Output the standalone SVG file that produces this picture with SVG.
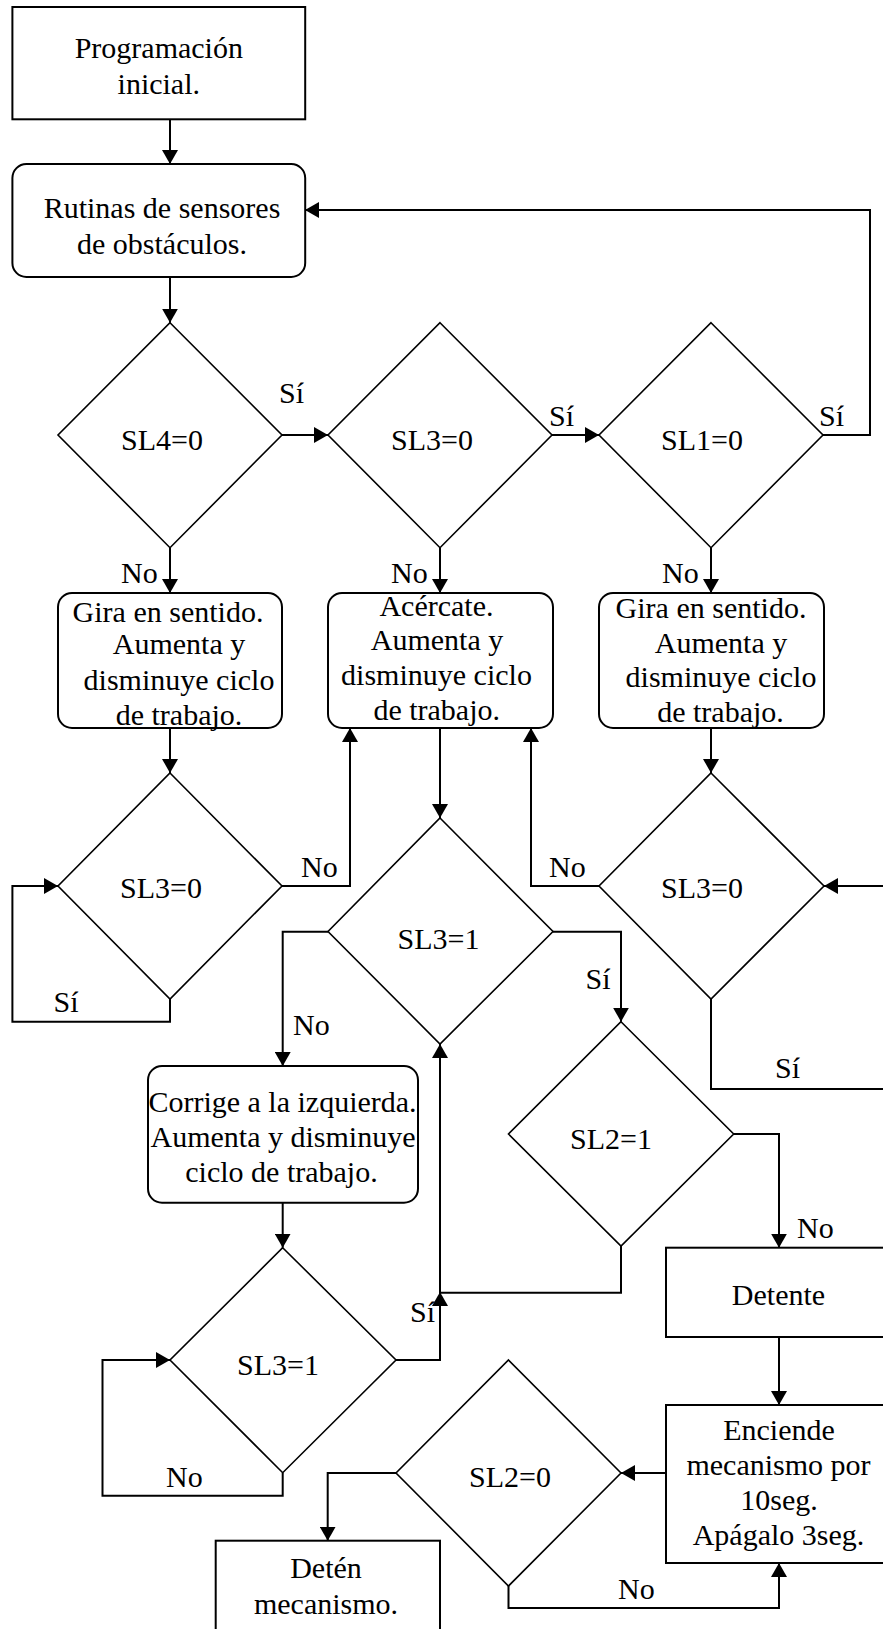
<svg xmlns="http://www.w3.org/2000/svg" width="883" height="1629" viewBox="0 0 883 1629">
<style>
  .box { fill: #fff; stroke: #000; stroke-width: 2; }
  .dia { fill: #fff; stroke: #000; stroke-width: 1.6; }
  .con { fill: none; stroke: #000; stroke-width: 2; }
  text { font-family: "Liberation Serif", "Times New Roman", serif; font-size: 30px; fill: #000; }
  .c { text-anchor: middle; }
</style>
<defs>
  <marker id="arr" markerUnits="userSpaceOnUse" markerWidth="14" markerHeight="16" refX="14" refY="8" orient="auto">
    <path d="M0,0 L14,8 L0,16 Z" fill="#000"/>
  </marker>
</defs>
<rect width="883" height="1629" fill="#fff"/>

<g id="connectors" class="con" marker-end="url(#arr)">
  <path class="con" d="M170,119 V164" marker-end="url(#arr)"/>
  <path class="con" d="M170,277 V322.7" marker-end="url(#arr)"/>
  <path class="con" d="M282,435 H328" marker-end="url(#arr)"/>
  <path class="con" d="M552,435 H599" marker-end="url(#arr)"/>
  <path class="con" d="M823,435 H870 V210 H305" marker-end="url(#arr)"/>
  <path class="con" d="M170,548 V593" marker-end="url(#arr)"/>
  <path class="con" d="M440,548 V593" marker-end="url(#arr)"/>
  <path class="con" d="M711,548 V593" marker-end="url(#arr)"/>
  <path class="con" d="M170,728 V773" marker-end="url(#arr)"/>
  <path class="con" d="M440,728 V818" marker-end="url(#arr)"/>
  <path class="con" d="M711,728 V773" marker-end="url(#arr)"/>
  <path class="con" d="M282,886 H350 V728" marker-end="url(#arr)"/>
  <path class="con" d="M170,999 V1021.7 H12.4 V886 H58" marker-end="url(#arr)"/>
  <path class="con" d="M599,886 H531 V728" marker-end="url(#arr)"/>
  <path class="con" d="M711,999 V1089 H890" marker-end="none"/>
  <path class="con" d="M890,886 H824" marker-end="url(#arr)"/>
  <path class="con" d="M328,931.7 H282.7 V1066" marker-end="url(#arr)"/>
  <path class="con" d="M553,931.7 H621 V1021.7" marker-end="url(#arr)"/>
  <path class="con" d="M733.7,1134 H779 V1247.7" marker-end="url(#arr)"/>
  <path class="con" d="M621,1246 V1292.7 H440 V1044" marker-end="url(#arr)"/>
  <path class="con" d="M282.7,1202.7 V1247.7" marker-end="url(#arr)"/>
  <path class="con" d="M282.7,1472.7 V1495.7 H102.5 V1360 H170" marker-end="url(#arr)"/>
  <path class="con" d="M396,1360 H440 V1292" marker-end="url(#arr)"/>
  <path class="con" d="M779,1337 V1405" marker-end="url(#arr)"/>
  <path class="con" d="M666,1473 H621" marker-end="url(#arr)"/>
  <path class="con" d="M508.5,1586 V1608 H779 V1563" marker-end="url(#arr)"/>
  <path class="con" d="M396,1473 H327.7 V1540.7" marker-end="url(#arr)"/>
</g>

<g id="labels">
  <text x="279" y="403">Sí</text>
  <text x="549" y="426">Sí</text>
  <text x="819" y="426">Sí</text>
  <text x="121" y="583">No</text>
  <text x="391" y="583">No</text>
  <text x="662" y="583">No</text>
  <text x="301" y="877">No</text>
  <text x="549" y="877">No</text>
  <text x="53.5" y="1012">Sí</text>
  <text x="293" y="1035">No</text>
  <text x="585.6" y="989">Sí</text>
  <text x="775" y="1078">Sí</text>
  <text x="797" y="1238">No</text>
  <text x="410" y="1322">Sí</text>
  <text x="166" y="1487">No</text>
  <text x="618" y="1599">No</text>
</g>

<g id="n_inicio">
  <rect class="box" x="12.4" y="7" width="292.8" height="112.3"/>
  <text class="c" x="158.8" y="58">Programación</text>
  <text class="c" x="158.8" y="94">inicial.</text>
</g>
<g id="n_rutinas">
  <rect class="box" x="12.4" y="164" width="292.8" height="113" rx="14"/>
  <text class="c" x="162" y="218">Rutinas de sensores</text>
  <text class="c" x="162" y="254">de obstáculos.</text>
</g>
<g id="d_sl4">
  <polygon class="dia" points="170,322.7 282,435 170,547.7 58,435"/>
  <text class="c" x="162" y="450">SL4=0</text>
</g>
<g id="d_sl3a">
  <polygon class="dia" points="440,322.7 552,435 440,547.7 328,435"/>
  <text class="c" x="432" y="450">SL3=0</text>
</g>
<g id="d_sl1">
  <polygon class="dia" points="711,322.7 823,435 711,547.7 599,435"/>
  <text class="c" x="702" y="450">SL1=0</text>
</g>
<g id="n_gira1">
  <rect class="box" x="58" y="593" width="224" height="135" rx="14"/>
  <text class="c" x="168" y="621.7">Gira en sentido.</text>
  <text class="c" x="179" y="654">Aumenta y</text>
  <text class="c" x="179" y="690">disminuye ciclo</text>
  <text class="c" x="179" y="725">de trabajo.</text>
</g>
<g id="n_acercate">
  <rect class="box" x="328" y="593" width="225" height="135" rx="14"/>
  <text class="c" x="436.5" y="616">Acércate.</text>
  <text class="c" x="437" y="650">Aumenta y</text>
  <text class="c" x="436.5" y="685">disminuye ciclo</text>
  <text class="c" x="436.7" y="720">de trabajo.</text>
</g>
<g id="n_gira2">
  <rect class="box" x="599" y="593" width="225" height="135" rx="14"/>
  <text class="c" x="711" y="618">Gira en sentido.</text>
  <text class="c" x="721" y="652.7">Aumenta y</text>
  <text class="c" x="721" y="687">disminuye ciclo</text>
  <text class="c" x="720.5" y="721.7">de trabajo.</text>
</g>
<g id="d_sl3b">
  <polygon class="dia" points="170,773 282,886 170,999 58,886"/>
  <text class="c" x="161" y="898">SL3=0</text>
</g>
<g id="d_sl3c">
  <polygon class="dia" points="711,773 824,886 711,999 599,886"/>
  <text class="c" x="702" y="898">SL3=0</text>
</g>
<g id="d_sl3eq1">
  <polygon class="dia" points="440,818 553,931.5 440,1044 328,931.5"/>
  <text class="c" x="438.5" y="949">SL3=1</text>
</g>
<g id="n_corrige">
  <rect class="box" x="148" y="1066" width="270" height="136.7" rx="14"/>
  <text class="c" x="282.5" y="1111.7">Corrige a la izquierda.</text>
  <text class="c" x="283" y="1146.7">Aumenta y disminuye</text>
  <text class="c" x="281.5" y="1181.7">ciclo de trabajo.</text>
</g>
<g id="d_sl2eq1">
  <polygon class="dia" points="621,1021.7 733.7,1134 621,1246 508.5,1134"/>
  <text class="c" x="611" y="1149">SL2=1</text>
</g>
<g id="d_sl3eq1b">
  <polygon class="dia" points="282.7,1247.7 396,1360 282.7,1472.7 170,1360"/>
  <text class="c" x="278" y="1375">SL3=1</text>
</g>
<g id="n_detente">
  <rect class="box" x="666" y="1247.7" width="230" height="89.3"/>
  <text class="c" x="778.5" y="1305">Detente</text>
</g>
<g id="n_enciende">
  <rect class="box" x="666" y="1405" width="230" height="158"/>
  <text class="c" x="779" y="1440">Enciende</text>
  <text class="c" x="778.5" y="1475">mecanismo por</text>
  <text class="c" x="779" y="1510">10seg.</text>
  <text class="c" x="778.5" y="1545">Apágalo 3seg.</text>
</g>
<g id="d_sl2eq0">
  <polygon class="dia" points="508.5,1360 621,1473 508.5,1586 396,1473"/>
  <text class="c" x="510" y="1487">SL2=0</text>
</g>
<g id="n_deten">
  <rect class="box" x="215.7" y="1540.7" width="224.3" height="100"/>
  <text class="c" x="326" y="1578">Detén</text>
  <text class="c" x="326" y="1614">mecanismo.</text>
</g>
</svg>
